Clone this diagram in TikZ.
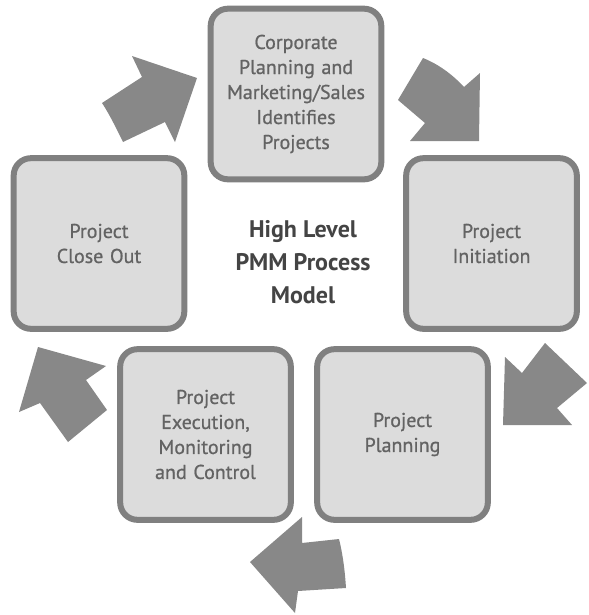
\documentclass[tikz,border=0pt]{standalone}
\usepackage{fontspec}
\setmainfont{PT Sans}
\newfontfamily\boxfont[FakeBold=0.8]{PT Sans}
\definecolor{boxfill}{HTML}{DCDCDC}
\definecolor{boxline}{HTML}{808080}
\definecolor{arrowgray}{HTML}{888888}
\definecolor{boxtext}{HTML}{636363}
\definecolor{centertext}{HTML}{444444}
\begin{document}
\begin{tikzpicture}[x=0.75pt,y=-0.75pt,
  stagebox/.style={draw=boxline, fill=boxfill, line width=4.5pt, rounded corners=13pt,
    minimum width=128pt, minimum height=128pt, text width=124pt, align=center,
    text=boxtext, font=\boxfont\fontsize{15}{18.75}\selectfont, inner sep=0pt},
  centerlabel/.style={align=center, text=centertext, font=\fontsize{18}{25}\selectfont\bfseries},
  blockarrow/.style={fill=arrowgray, draw=none}]
\useasboundingbox (0,0) rectangle (589,615);
\node[stagebox] (b1) at (296,94) {Corporate\\Planning and\\Marketing/Sales\\Identifies\\Projects};
\node[stagebox] (b2) at (491.5,243.5) {Project\\Initiation};
\node[stagebox] (b3) at (402.5,434.5) {Project\\Planning};
\node[stagebox] (b4) at (205.5,434.5) {Project\\Execution,\\Monitoring\\and Control};
\node[stagebox] (b5) at (99,243.5) {Project\\Close Out};
\node[centerlabel] (title) at (303,262) {High Level\\PMM Process\\Model};
% arrow close out -> corporate
\fill[blockarrow] (197,78) -- (132,56) -- (142,77) -- (102,103) .. controls (110,115) and (117,130) .. (123,142) -- (165,122) -- (175,142) -- cycle;
% arrow corporate -> initiation
\fill[blockarrow] (479,141) -- (480,73) -- (464,87) .. controls (452,74) and (438,64) .. (423,58) -- (398,100) -- (425,123) -- (410,141) -- cycle;
% arrow initiation -> planning
\fill[blockarrow] (503,425) -- (572,425) -- (557,408) -- (587,383) -- (545,343) -- (522,373) -- (505,357) -- cycle;
% arrow planning -> execution
\fill[blockarrow] (250,562) -- (302,517) -- (302,543) -- (339,539) .. controls (343,555) and (345,572) .. (346,588) -- (298,591) -- (295,613) -- cycle;
% arrow execution -> close out
\fill[blockarrow] (38,347) -- (19,412) -- (40,403) -- (68,442) -- (107,410) -- (86,380) -- (106,366) -- cycle;
\end{tikzpicture}
\end{document}
